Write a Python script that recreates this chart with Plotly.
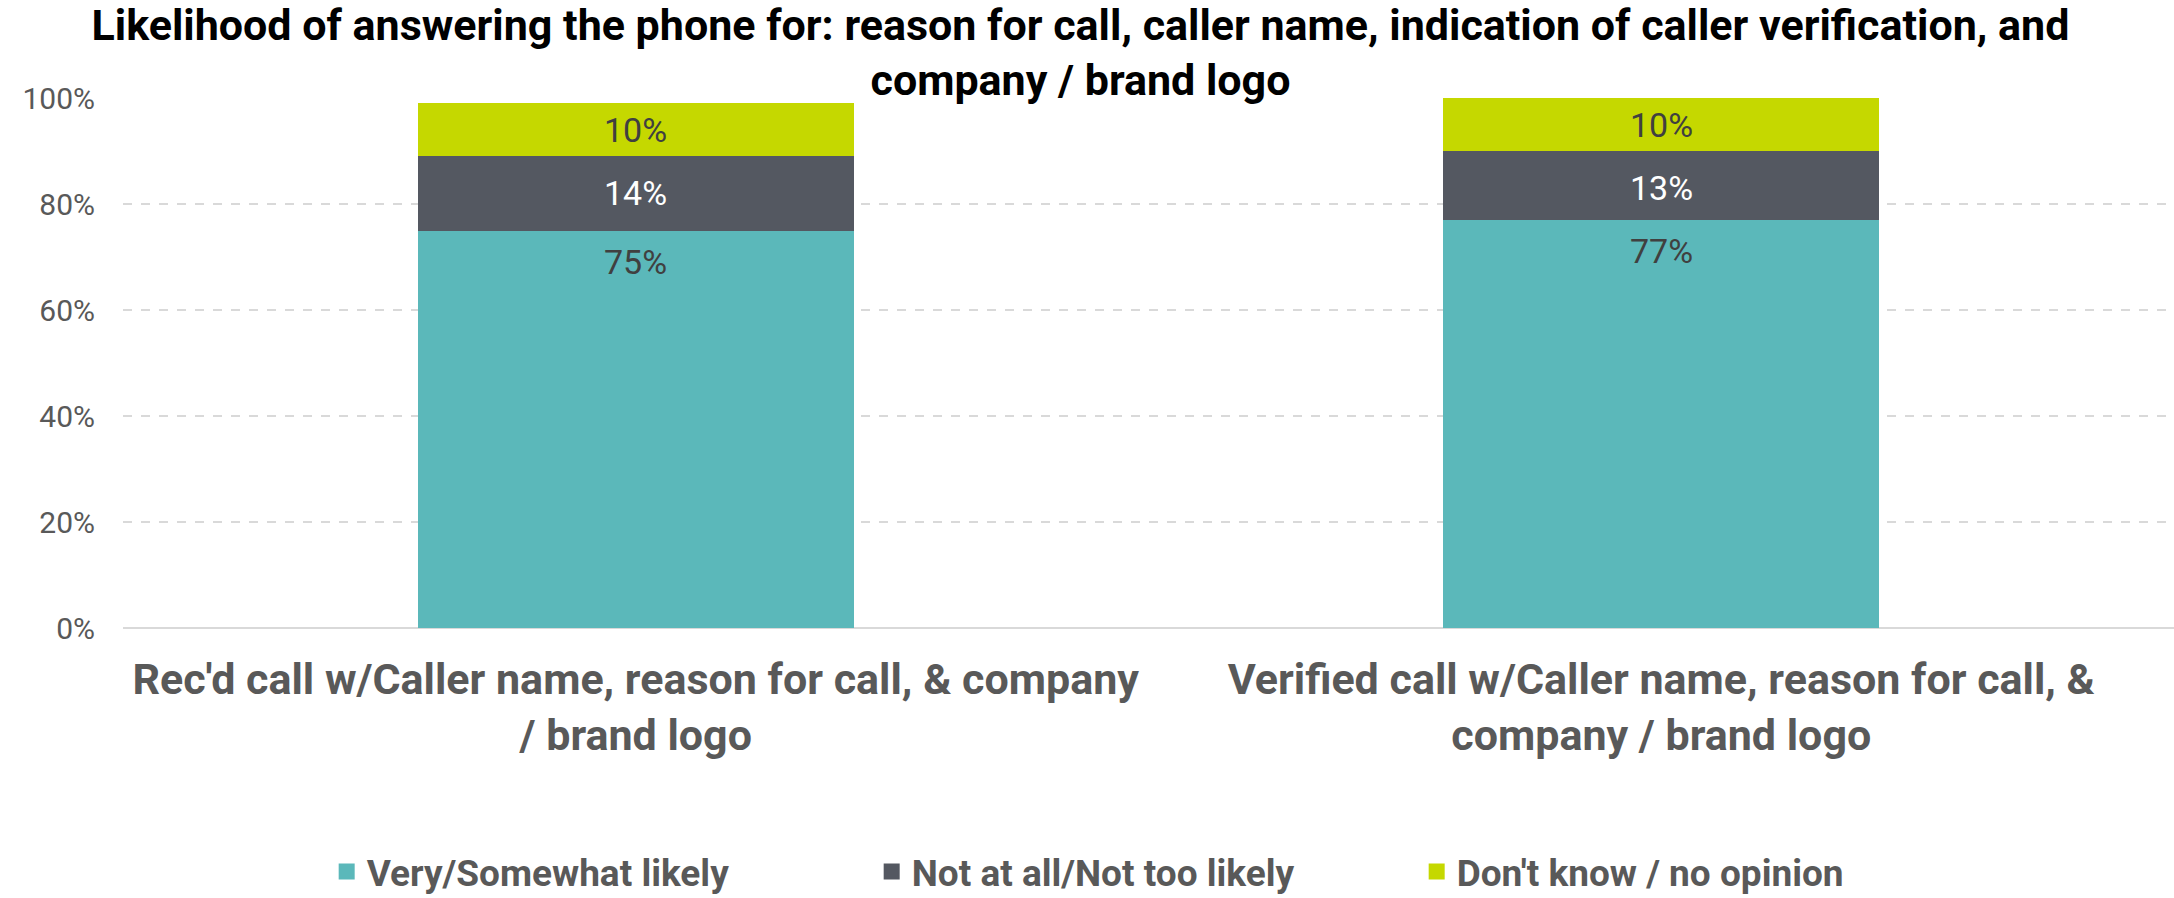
import plotly.graph_objects as go

# Survey categories (two call scenarios)
categories = [
    "Rec'd call w/Caller name, reason for call, & company<br>/ brand logo",
    "Verified call w/Caller name, reason for call, &<br>company / brand logo",
]

# Stacked response shares, percent
very_somewhat_likely = [75, 77]
not_likely = [14, 13]
dont_know = [10, 10]

series_names = ["Very/Somewhat likely", "Not at all/Not too likely", "Don't know / no opinion"]
series_values = [very_somewhat_likely, not_likely, dont_know]
series_colors = ["#5BB8BA", "#545861", "#C5D800"]
label_colors = ["#404040", "#FFFFFF", "#404040"]
label_shifts = [-31, -37, -27]

y_tick_vals = [0, 20, 40, 60, 80, 100]
y_tick_text = ["0%", "20%", "40%", "60%", "80%", "100%"]

title_text = ("Likelihood of answering the phone for: reason for call, caller name, "
              "indication of caller verification, and<br>company / brand logo")

FONT = "Roboto, Arial, sans-serif"

fig = go.Figure()

# Stacked bars
for name, vals, color in zip(series_names, series_values, series_colors):
    fig.add_trace(go.Bar(
        x=categories, y=vals, name=name,
        marker=dict(color=color, line=dict(width=0)),
        showlegend=False, hoverinfo="x+y+name",
    ))

# Legend entries with larger square swatches
for name, color in zip(series_names, series_colors):
    fig.add_trace(go.Scatter(
        x=[None], y=[None], mode="markers", name=name,
        marker=dict(symbol="square", size=16, color=color),
        showlegend=True,
    ))

# Value labels, placed just below the top of each segment
annotations = []
for ci, cat in enumerate(categories):
    cum = 0
    for vals, tcolor, shift in zip(series_values, label_colors, label_shifts):
        v = vals[ci]
        cum += v
        annotations.append(dict(
            x=cat, y=cum, xref="x", yref="y",
            text=f"{v}%", showarrow=False,
            yanchor="middle", yshift=shift,
            font=dict(family=FONT, size=34, color=tcolor),
        ))

fig.update_layout(
    width=2174, height=898,
    barmode="stack", bargap=0.575,
    paper_bgcolor="white", plot_bgcolor="white",
    margin=dict(l=123, r=0, t=98, b=270),
    title=dict(
        text=f"<b>{title_text}</b>",
        x=0.497, xanchor="center", xref="container",
        y=0.956, yanchor="bottom", yref="container",
        font=dict(family=FONT, size=43, color="#000000"),
    ),
    font=dict(family=FONT, color="#595959"),
    legend=dict(
        orientation="h", x=0.5263, xanchor="center", xref="container",
        y=0.029, yanchor="middle", yref="container",
        traceorder="normal",
        font=dict(family=FONT, size=37, color="#595959", weight="bold"),
        entrywidth=500, entrywidthmode="pixels",
        itemwidth=30,
    ),
    annotations=annotations,
    xaxis=dict(
        showgrid=False, showline=False, zeroline=False,
        tickfont=dict(family=FONT, size=43, color="#595959", weight="bold"),
        ticks="", ticklabelstandoff=22,
        range=[-0.5, 1.5],
    ),
    yaxis=dict(
        range=[0, 100], tickvals=y_tick_vals, ticktext=y_tick_text,
        showgrid=True, gridcolor="#D9D9D9", gridwidth=2, griddash="dash",
        zeroline=True, zerolinecolor="#D9D9D9", zerolinewidth=2,
        showline=False, ticks="",
        tickfont=dict(family=FONT, size=30, color="#595959"),
        ticklabelstandoff=27,
    ),
)

fig.write_html("out.html")
